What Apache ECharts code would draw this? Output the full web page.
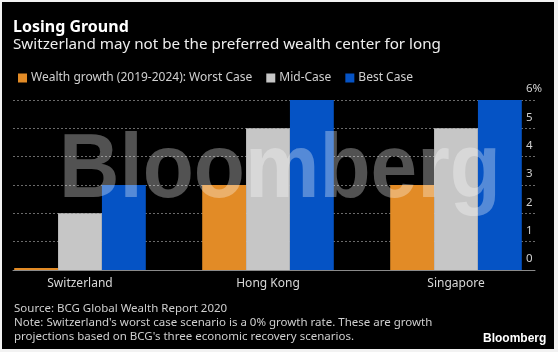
<!DOCTYPE html>
<html>
<head>
<meta charset="utf-8">
<script src="https://cdn.jsdelivr.net/npm/echarts@6/dist/echarts.min.js"></script>
<style>
  html, body { margin: 0; padding: 0; background: #f2f2f2; overflow: hidden; }
  /* the chart div starts left of the window so the bar groups can sit like the original */
  #chart { position: absolute; left: -18px; top: 2px; width: 572px; height: 347px; background: #000; }
  #edge { position: absolute; left: 0; top: 0; width: 2px; height: 352px; background: #f2f2f2; z-index: 5; }
</style>
</head>
<body>
<div id="chart"></div>
<div id="edge"></div>
<script>
// data
const categories = ['Switzerland', 'Hong Kong', 'Singapore']
const seriesNames = ['Wealth growth (2019-2024): Worst Case', 'Mid-Case', 'Best Case']
const worstCase = [0, 3, 3]
const midCase = [2, 5, 5]
const bestCase = [3, 6, 6]
const yTicks = [0, 1, 2, 3, 4, 5, 6]

const colors = ['#e28b26', '#c6c6c6', '#0553c5']
const font = '"Noto Sans", sans-serif'
const dx = 20 // chart div is shifted 20px left of the old origin

const chart = echarts.init(document.getElementById('chart'))

chart.setOption({
  backgroundColor: '#000',
  animation: false,
  color: colors,
  legend: {
    left: 11 + dx,
    top: 65,
    itemWidth: 9,
    itemHeight: 9,
    itemGap: 14,
    icon: 'rect',
    textStyle: { color: '#d0d0d0', fontSize: 12, fontFamily: font, padding: [0, 0, 0, -1] },
    data: seriesNames
  },
  graphic: [
    {
      type: 'text', left: 11 + dx, top: 17,
      style: { text: 'Losing Ground', fill: '#fff', font: 'bold 16px ' + font }
    },
    {
      type: 'text', left: 11 + dx, top: 35,
      style: { text: 'Switzerland may not be the preferred wealth center for long', fill: '#eee', font: '15.2px ' + font }
    },
    {
      type: 'text', left: 12 + dx, top: 300,
      style: {
        text: 'Source: BCG Global Wealth Report 2020\nNote: Switzerland\'s worst case scenario is a 0% growth rate. These are growth\nprojections based on BCG\'s three economic recovery scenarios.',
        fill: '#cfcfcf', font: '11.5px ' + font, lineHeight: 14
      }
    },
    {
      type: 'text', left: 481 + dx, top: 331,
      style: { text: 'Bloomberg', fill: '#fff', font: 'bold 12px "Liberation Sans", Arial, sans-serif' }
    },
    {
      type: 'text', left: 57 + dx, top: 124, z: 100, scaleX: 0.92,
      style: {
        text: 'Bloomberg', fill: 'rgba(255,255,255,0.32)',
        font: 'bold 91px "Liberation Sans", Arial, sans-serif'
      }
    }
  ],
  grid: [
    { left: 11 + dx, right: 19, top: 98, bottom: 79 },
    { left: 4, right: 4, top: 98, bottom: 79 }
  ],
  xAxis: [
    {
      gridIndex: 0, type: 'category', data: categories,
      axisLine: { lineStyle: { color: '#8a8a8a', width: 1 } },
      axisTick: { show: false }, axisLabel: { show: false }
    },
    {
      gridIndex: 1, type: 'category', data: categories,
      axisLine: { show: false }, axisTick: { show: false },
      axisLabel: { color: '#d8d8d8', fontSize: 12, fontFamily: font, margin: 8 }
    }
  ],
  yAxis: [
    {
      gridIndex: 0, type: 'value', position: 'right', min: 0, max: 6, interval: 1,
      axisLine: { show: false }, axisTick: { show: false },
      splitLine: { lineStyle: { color: '#6a6a6a', type: [2, 2], width: 1 } },
      axisLabel: {
        color: '#d0d0d0', fontSize: 11.5, fontFamily: font, margin: -9,
        verticalAlign: 'bottom', lineHeight: 12, padding: [0, 0, 5, 0],
        formatter: v => (v === yTicks[yTicks.length - 1] ? v + '%' : String(v))
      }
    },
    { gridIndex: 1, type: 'value', min: 0, max: 6, show: false }
  ],
  series: [
    { name: seriesNames[0], type: 'bar', xAxisIndex: 1, yAxisIndex: 1, data: worstCase, barGap: '0%', barCategoryGap: '30%', barMinHeight: 2 },
    { name: seriesNames[1], type: 'bar', xAxisIndex: 1, yAxisIndex: 1, data: midCase, barGap: '0%', barCategoryGap: '30%' },
    { name: seriesNames[2], type: 'bar', xAxisIndex: 1, yAxisIndex: 1, data: bestCase, barGap: '0%', barCategoryGap: '30%' }
  ]
})
</script>
</body>
</html>
